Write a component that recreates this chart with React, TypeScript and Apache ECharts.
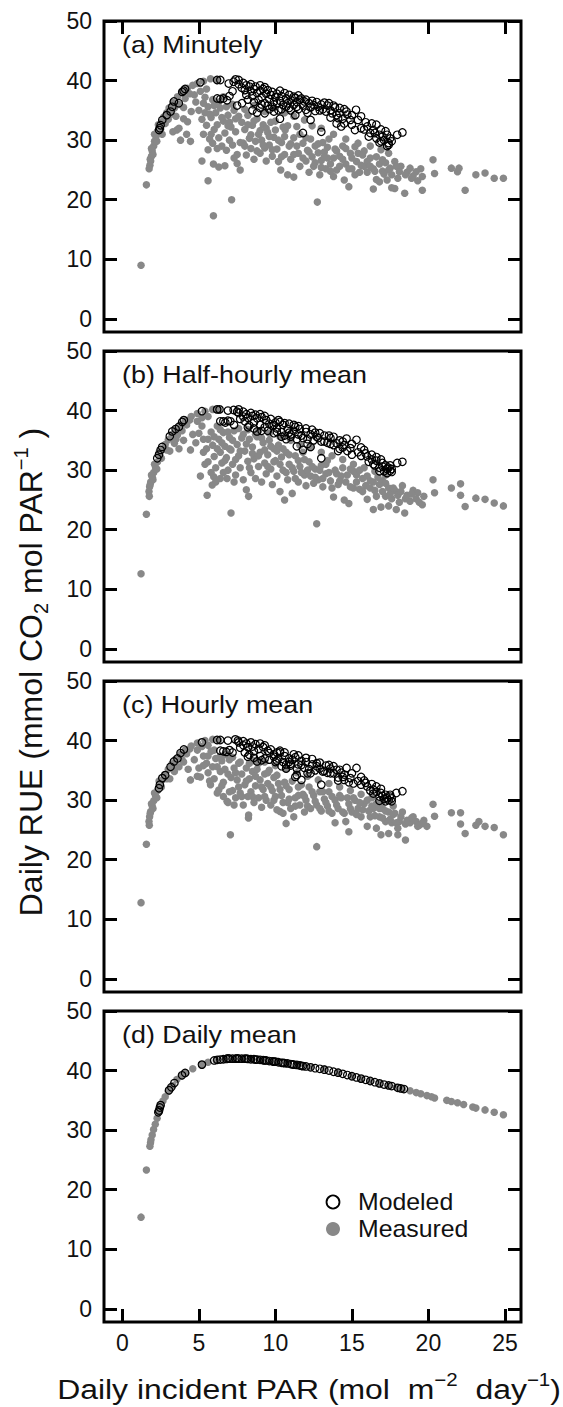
import React, { useEffect, useRef } from "react";
import * as echarts from "echarts";

const FONT = "'Liberation Sans', Arial, Helvetica, sans-serif";

const X_TICKS = [0, 5, 10, 15, 20, 25];
const Y_TICKS = [0, 10, 20, 30, 40, 50];
const PANEL_LABELS = ["(a) Minutely", "(b) Half-hourly mean", "(c) Hourly mean", "(d) Daily mean"];
const LEGEND_NAMES = ["Modeled", "Measured"];

const measuredA = [
  [1.22, 9.0], [1.57, 22.5], [1.8, 25.8], [1.85, 26.5], [1.9, 27.3], [1.95, 28.2], [2.05, 29.0], [2.1, 29.8], [2.2, 30.6], [2.3, 31.5], [2.4, 32.3], [2.55, 33.0], [2.7, 33.9], [2.9, 34.6], [3.05, 35.4], [3.3, 36.3], [3.6, 37.3], [3.9, 38.0], [4.25, 38.7], [4.6, 39.2], [4.9, 39.5], [5.3, 39.9], [5.76, 40.3], [6.2, 40.0],
  [1.75, 25.2], [1.82, 26.8], [1.9, 28.6], [2.0, 27.6], [2.1, 31.0], [2.25, 29.8], [2.35, 32.6], [2.5, 31.8], [2.8, 32.8], [3.1, 34.6], [3.4, 35.4], [3.7, 36.0], [4.1, 37.0], [4.4, 37.8], [4.0, 33.6], [3.3, 31.4], [4.2, 31.0],
  [2.6, 31.0], [3.0, 33.5], [3.2, 34.4], [3.5, 34.0], [3.56, 31.7], [3.8, 30.0], [4.26, 33.1], [4.45, 29.8], [4.5, 34.8], [4.0, 35.5], [4.8, 36.4], [5.0, 35.0], [3.7, 32.0],
  [5.2, 33.5], [5.3, 31.0], [5.5, 32.5], [5.6, 35.6], [5.7, 30.2], [5.8, 33.8], [5.9, 29.5], [6.0, 31.8], [6.1, 34.6], [6.2, 32.6], [6.3, 30.4], [6.4, 35.4], [6.5, 29.0], [6.6, 33.2], [6.7, 31.2], [6.8, 28.3], [6.9, 34.2], [7.0, 30.0], [7.1, 32.2], [7.2, 29.2], [7.3, 35.0], [7.4, 31.4], [7.5, 27.6], [5.4, 37.2], [5.9, 36.8], [6.6, 37.3],
  [4.7, 37.6], [5.1, 38.2], [5.5, 38.6], [5.3, 36.2], [5.7, 34.4], [6.0, 35.8], [6.3, 36.4], [6.5, 33.8], [6.8, 35.6], [7.0, 33.0], [7.2, 36.0], [7.6, 34.0], [7.7, 29.6], [6.2, 28.6], [5.6, 28.4], [5.8, 31.0], [6.9, 32.4], [7.4, 33.6], [5.4, 34.6],
  [5.2, 26.5], [5.6, 23.2], [5.95, 26.0], [5.95, 17.3], [6.3, 25.5], [6.7, 25.7], [7.14, 20.0], [7.5, 26.1], [7.7, 25.0], [7.3, 27.0],
  [7.8, 33.0], [7.9, 29.5], [8.0, 31.8], [8.1, 27.5], [8.2, 34.2], [8.3, 30.3], [8.4, 28.6], [8.5, 32.5], [8.6, 26.8], [8.7, 29.8], [8.8, 33.6], [8.9, 31.0], [9.0, 27.8], [9.1, 30.0], [9.2, 32.6], [9.3, 28.7], [9.4, 26.5], [9.5, 31.3], [9.6, 29.2], [9.7, 33.0], [9.8, 27.3], [9.9, 30.5], [10.0, 31.7], [10.1, 28.5], [10.2, 26.4], [10.35, 25.0], [10.4, 29.6], [10.5, 32.2], [10.6, 27.6], [10.64, 31.7], [10.8, 24.2], [10.9, 29.0], [11.0, 26.8], [11.2, 23.8], [11.2, 30.4], [11.4, 32.3],
  [8.0, 29.0], [8.2, 32.6], [8.4, 30.9], [8.6, 33.2], [8.8, 28.2], [9.0, 31.6], [9.2, 29.2], [9.4, 32.0], [9.6, 30.6], [9.8, 28.4], [10.0, 33.2], [10.2, 30.0], [10.4, 27.2], [10.6, 30.6], [10.8, 32.4], [11.0, 29.4], [11.2, 27.6], [11.4, 29.0], [11.6, 31.0], [11.8, 27.0], [12.0, 30.4], [12.2, 28.0],
  [11.5, 27.8], [11.6, 25.6], [11.8, 29.5], [12.0, 26.5], [12.1, 28.3], [12.2, 24.6], [12.3, 30.2], [12.4, 27.2], [12.5, 25.6], [12.6, 29.0], [12.74, 19.6], [12.8, 27.9], [12.9, 24.2], [13.0, 26.6], [13.1, 29.6], [13.2, 28.0], [13.3, 25.2], [13.4, 27.0], [13.5, 30.2], [13.6, 26.0], [13.8, 23.9], [13.9, 28.5], [14.0, 25.0], [14.2, 27.3], [14.4, 29.0], [14.5, 23.3], [14.6, 26.0], [14.8, 22.2], [14.9, 27.8], [15.0, 25.2], [15.2, 28.9], [15.3, 26.4], [15.5, 24.6],
  [12.6, 26.2], [12.8, 29.4], [13.0, 25.4], [13.2, 27.2], [13.4, 28.8], [13.6, 24.8], [13.8, 27.0], [14.0, 28.2], [14.2, 25.6], [14.4, 26.8], [14.6, 28.6], [14.8, 25.2], [15.0, 27.0], [15.2, 24.2], [15.4, 27.8], [15.6, 25.8], [15.8, 28.2], [16.0, 24.6], [16.2, 27.0], [16.4, 25.2], [16.6, 23.4], [16.8, 26.0], [17.0, 24.8], [17.2, 26.2], [17.4, 25.0], [17.6, 24.2], [17.8, 26.4], [18.0, 23.6], [18.2, 25.6], [18.6, 24.6], [18.9, 23.6], [19.3, 23.2], [19.5, 25.2],
  [15.7, 27.5], [15.8, 25.6], [16.0, 26.4], [16.2, 25.6], [16.4, 21.8], [16.5, 24.8], [16.6, 27.2], [16.8, 23.0], [17.0, 26.7], [17.1, 24.3], [17.3, 23.3], [17.5, 25.3], [17.6, 22.0], [17.8, 21.9], [17.9, 25.6], [18.1, 24.7], [18.45, 21.1], [18.8, 25.3], [19.2, 24.7], [19.6, 23.9], [19.6, 21.6], [19.0, 24.0], [18.5, 24.2],
  [20.3, 26.7], [20.4, 24.4], [21.5, 25.3], [21.9, 24.7], [22.0, 25.3], [22.4, 21.6], [23.1, 24.2], [23.7, 24.5], [24.3, 23.6], [24.9, 23.6],
  [8.0, 35.2], [8.6, 35.8], [9.3, 34.8], [9.9, 35.4], [10.6, 34.6], [11.2, 34.0], [11.9, 33.4], [12.4, 32.4], [13.0, 32.0], [13.8, 31.0], [14.6, 30.2], [15.4, 29.5], [16.2, 29.0], [16.9, 28.4], [17.4, 27.8]
];

const modeledA = [
  [2.4, 31.7], [2.45, 32.0], [2.5, 32.5], [2.61, 33.4], [2.9, 34.2], [3.15, 34.8], [3.26, 35.6], [3.37, 36.5], [3.69, 36.2], [3.91, 38.1], [4.0, 38.3], [4.1, 38.6], [5.1, 39.7], [6.19, 40.1], [6.4, 40.1], [6.95, 39.5], [7.27, 39.8], [7.4, 40.2], [7.6, 40.1],
  [6.2, 37.0], [6.4, 36.9], [6.6, 37.0], [6.84, 36.7], [7.0, 37.4], [7.2, 38.2], [7.82, 36.2], [7.5, 35.8],
  [7.8, 38.8], [8.0, 38.4], [8.1, 37.6], [8.3, 39.0], [8.4, 38.2], [8.5, 37.4], [8.6, 38.6], [8.8, 37.9], [8.9, 36.8], [9.0, 38.3], [9.1, 37.2], [9.2, 38.6], [9.3, 36.2], [9.4, 37.8], [9.5, 38.4], [9.6, 36.9], [9.7, 37.6], [9.8, 38.1], [9.9, 36.4], [10.0, 37.2],
  [7.6, 39.4], [7.9, 39.6], [8.1, 39.2], [8.4, 39.4], [8.7, 39.0], [9.0, 39.2], [9.3, 38.9], [8.2, 36.8], [8.6, 36.4], [9.1, 36.0], [9.5, 35.8], [9.8, 35.6], [10.1, 36.2], [10.3, 38.3], [10.6, 37.9], [10.9, 37.6], [11.2, 37.3], [11.5, 37.5], [11.7, 37.0],
  [8.5, 35.0], [8.8, 34.6], [9.0, 35.4], [9.3, 34.5], [9.6, 35.2], [9.9, 34.8], [10.2, 35.0],
  [10.1, 37.8], [10.3, 36.6], [10.4, 37.4], [10.5, 35.9], [10.7, 37.0], [10.8, 36.2], [10.9, 35.4], [11.0, 36.8], [11.2, 35.9], [11.3, 37.1], [11.4, 36.4], [11.5, 35.2], [11.6, 36.8], [11.8, 35.8], [11.9, 36.5], [12.0, 35.1], [12.2, 36.2], [12.3, 35.5], [12.5, 35.9], [12.6, 34.9], [12.8, 35.6], [13.0, 36.0], [13.1, 35.2], [13.3, 34.8], [13.4, 35.8],
  [10.4, 35.2], [10.7, 35.6], [11.0, 35.0], [11.4, 35.6], [12.0, 36.8], [12.4, 36.6], [12.7, 36.4], [12.1, 34.6], [12.9, 35.0], [13.2, 36.3], [13.5, 36.2], [13.8, 35.8], [14.2, 35.4], [14.5, 35.2], [14.0, 34.2], [14.4, 33.6], [13.6, 33.8],
  [10.3, 33.6], [11.8, 31.2], [12.3, 33.4], [13.0, 31.4], [11.3, 34.2],
  [13.6, 35.0], [13.7, 34.5], [13.9, 35.5], [14.0, 32.8], [14.1, 33.7], [14.2, 34.5], [14.3, 32.3], [14.5, 32.8], [14.65, 34.8], [14.7, 34.3], [14.9, 33.4], [15.0, 32.6], [15.2, 31.7], [15.27, 35.1], [15.4, 33.4], [15.6, 32.0], [15.8, 31.8], [16.0, 32.3], [16.1, 30.6],
  [15.0, 34.2], [15.6, 34.0], [15.9, 33.0], [16.3, 32.8], [16.6, 32.6], [16.4, 31.7], [16.9, 31.8], [17.2, 31.5], [16.8, 29.6], [17.3, 29.0], [17.0, 30.6],
  [16.2, 31.2], [16.5, 31.2], [16.6, 30.3], [16.8, 30.9], [16.9, 29.8], [17.1, 30.0], [17.3, 30.9], [17.4, 29.5], [17.5, 30.3], [17.4, 29.2], [17.6, 29.8], [17.96, 30.9], [18.3, 31.3]
];

const measuredB = [
  [1.22, 12.6], [1.57, 22.6], [1.74, 26.4], [1.78, 27.2], [1.85, 28.0], [1.96, 28.8], [2.05, 29.6], [2.17, 30.4], [2.3, 31.4], [2.45, 32.4], [2.6, 33.4], [2.8, 34.3], [3.0, 35.1], [3.25, 36.0], [3.5, 36.8], [3.8, 37.6], [4.1, 38.3], [4.5, 39.0], [4.9, 39.5], [5.4, 39.9], [5.9, 40.2], [6.3, 40.1],
  [1.76, 25.6], [1.82, 27.6], [1.9, 29.2], [2.0, 28.4], [2.1, 31.0], [2.25, 30.2], [2.4, 33.0], [2.55, 32.0], [2.9, 33.4], [3.2, 35.4], [3.5, 35.2], [3.9, 36.6], [4.2, 37.6], [4.4, 38.4], [4.9, 38.2], [5.2, 38.8], [5.6, 39.0],
  [3.1, 33.2], [3.4, 34.5], [3.7, 33.6], [4.0, 35.0], [4.45, 33.4], [4.6, 36.0], [4.8, 34.6], [5.0, 36.2], [5.2, 37.4], [5.3, 35.2], [3.6, 35.9],
  [5.1, 29.0], [5.54, 25.8], [5.87, 27.5], [5.97, 28.9], [6.4, 28.6], [6.84, 28.6], [7.1, 22.8], [5.5, 33.6], [5.6, 31.4], [5.8, 36.4], [5.9, 34.2], [6.0, 32.3], [6.1, 30.4], [6.2, 37.4], [6.3, 35.2], [6.4, 33.0], [6.5, 31.2], [6.6, 36.3], [6.7, 34.0], [6.8, 32.1], [6.9, 30.0], [7.0, 35.5], [7.1, 33.4], [7.2, 31.0], [7.3, 36.6], [7.4, 29.2], [7.5, 34.3], [7.6, 32.4], [7.7, 30.4], [7.9, 28.4], [8.1, 26.7], [8.25, 25.6], [7.9, 36.0],
  [5.3, 33.0], [5.6, 35.2], [5.8, 29.6], [6.0, 35.6], [6.2, 33.6], [6.4, 36.8], [6.5, 34.6], [6.7, 31.6], [6.9, 36.4], [7.0, 33.6], [7.2, 35.0], [7.4, 31.8], [7.6, 37.0], [7.7, 33.2], [7.8, 35.4], [6.1, 28.0], [6.6, 29.6], [7.3, 28.0], [5.4, 31.0],
  [8.0, 33.2], [8.2, 31.5], [8.3, 35.2], [8.4, 29.6], [8.5, 33.9], [8.6, 31.9], [8.7, 28.6], [8.8, 35.6], [8.9, 30.6], [9.0, 33.0], [9.1, 28.0], [9.2, 34.6], [9.3, 31.2], [9.4, 29.4], [9.5, 32.6], [9.6, 35.0], [9.7, 30.2], [9.8, 27.6], [9.9, 33.6], [10.0, 31.6], [10.1, 29.0], [10.2, 34.2], [10.3, 26.4], [10.4, 32.2], [10.5, 30.0], [10.6, 25.0], [10.7, 33.0], [10.8, 28.4], [10.9, 31.0], [11.1, 26.1], [11.2, 29.8], [11.3, 32.4], [11.5, 28.0], [11.6, 30.6], [11.8, 33.0], [11.9, 29.2],
  [8.1, 34.4], [8.3, 30.4], [8.5, 32.8], [8.7, 36.0], [8.9, 32.4], [9.1, 35.4], [9.3, 33.4], [9.5, 30.6], [9.7, 34.0], [9.9, 31.4], [10.1, 33.2], [10.3, 31.0], [10.5, 33.6], [10.7, 29.6], [10.9, 32.6], [11.1, 30.4], [11.3, 28.6], [11.5, 31.6], [11.7, 29.6], [11.9, 31.8], [12.1, 30.0],
  [12.0, 27.4], [12.2, 31.4], [12.3, 29.0], [12.5, 27.8], [12.6, 30.2], [12.7, 21.0], [12.8, 28.4], [13.0, 30.8], [13.1, 27.2], [13.3, 29.4], [13.4, 31.6], [13.6, 28.2], [13.8, 25.5], [13.9, 30.0], [14.1, 27.6], [14.3, 29.0], [14.5, 25.0], [14.6, 28.0], [14.8, 24.4], [14.9, 30.2], [15.1, 27.0], [15.3, 29.2], [15.5, 26.8], [15.7, 28.6], [15.9, 27.4],
  [12.4, 30.6], [12.6, 28.8], [12.9, 30.0], [13.1, 28.6], [13.3, 31.0], [13.5, 29.6], [13.7, 27.0], [14.0, 29.4], [14.2, 28.2], [14.4, 30.4], [14.7, 29.2], [14.9, 27.2], [15.1, 29.8], [15.3, 28.0], [15.5, 30.0], [15.7, 26.4], [16.0, 29.0], [16.2, 27.0], [16.4, 28.0], [16.6, 25.6], [16.8, 27.6], [17.0, 28.2], [17.2, 25.6], [17.4, 27.0], [17.6, 25.2], [17.8, 26.6], [18.1, 24.6], [18.3, 27.4], [18.5, 25.2], [18.8, 24.8], [19.0, 26.6], [19.3, 26.2], [19.7, 25.6],
  [16.0, 25.1], [16.2, 28.2], [16.4, 23.4], [16.5, 26.6], [16.7, 28.8], [16.9, 23.8], [17.0, 26.4], [17.2, 27.8], [17.4, 24.0], [17.5, 26.0], [17.7, 27.0], [17.9, 23.4], [18.0, 25.8], [18.2, 26.4], [18.45, 22.8], [18.6, 25.8], [18.9, 26.0], [19.2, 25.2], [19.4, 24.6], [19.6, 24.2],
  [20.3, 28.4], [20.4, 26.2], [21.5, 27.0], [22.1, 27.7], [22.1, 25.8], [22.4, 23.9], [23.1, 25.3], [23.7, 25.1], [24.3, 24.5], [24.9, 24.0],
  [8.2, 36.8], [8.9, 36.6], [9.6, 36.2], [10.3, 35.6], [11.0, 35.0], [11.6, 34.2], [12.3, 33.8], [13.0, 33.0], [13.7, 32.4], [14.4, 31.8], [15.1, 31.0], [15.8, 30.4], [16.5, 29.8], [17.2, 29.2]
];

const modeledB = [
  [2.28, 32.0], [2.39, 32.6], [2.5, 33.4], [2.6, 33.9], [3.1, 35.7], [3.26, 36.5], [3.48, 36.9], [3.7, 37.3], [3.91, 38.1], [4.02, 38.4], [5.2, 39.9], [6.19, 40.2], [6.35, 40.2], [6.9, 40.0], [7.27, 40.1], [7.5, 39.8], [7.6, 40.2],
  [6.4, 38.2], [6.6, 38.2], [6.73, 38.0], [6.9, 38.3], [7.06, 38.2], [7.3, 37.6],
  [7.7, 38.6], [7.9, 39.0], [8.0, 38.2], [8.2, 38.8], [8.3, 37.5], [8.5, 39.1], [8.6, 38.0], [8.8, 36.5], [8.8, 38.7], [9.0, 37.6], [9.1, 38.9], [9.3, 37.2], [9.4, 38.4], [9.5, 36.6], [9.7, 38.6], [9.8, 37.4], [9.9, 36.2], [10.0, 38.0],
  [7.6, 39.6], [7.9, 39.8], [8.1, 39.4], [8.4, 39.6], [8.7, 39.3], [9.0, 39.4], [9.3, 39.1], [8.2, 37.2], [8.6, 37.0], [9.1, 36.6], [9.6, 37.8], [9.9, 37.6], [10.1, 36.4], [10.3, 38.1], [10.6, 37.9], [10.9, 36.3], [11.2, 37.6], [11.5, 37.4], [11.7, 35.8],
  [10.1, 37.0], [10.2, 38.4], [10.4, 36.4], [10.5, 37.6], [10.6, 35.8], [10.8, 36.9], [10.9, 37.8], [11.0, 35.6], [11.2, 36.6], [11.3, 37.3], [11.4, 34.0], [11.5, 36.0], [11.6, 36.9], [11.8, 33.4], [11.8, 35.4], [12.0, 36.4], [12.1, 35.2], [12.3, 33.9], [12.3, 36.0], [12.5, 35.0], [12.6, 36.3], [12.8, 35.4], [13.0, 32.0], [13.0, 34.8], [13.2, 35.8], [13.4, 34.6],
  [10.4, 35.6], [10.7, 35.2], [11.0, 36.0], [11.4, 35.2], [12.0, 37.0], [12.4, 36.8], [12.7, 35.6], [12.1, 34.4], [12.9, 36.2], [13.2, 34.8], [13.5, 35.8], [13.8, 35.6], [14.2, 35.0], [14.5, 34.2], [14.1, 33.2], [14.4, 33.8], [13.6, 34.4],
  [13.6, 35.4], [13.8, 34.2], [14.0, 34.5], [14.2, 33.6], [14.4, 34.8], [14.65, 35.3], [14.7, 33.2], [14.9, 33.7], [15.0, 32.6], [15.3, 35.1], [15.4, 33.0], [15.6, 32.4], [15.8, 33.4], [16.0, 32.3], [16.1, 31.4],
  [15.0, 34.4], [15.6, 33.8], [15.9, 32.8], [16.3, 32.6], [16.6, 32.2], [16.4, 31.0], [16.9, 31.8], [17.2, 30.8], [16.8, 29.8], [17.3, 30.2], [17.0, 30.6], [17.6, 29.7], [17.5, 30.8],
  [16.3, 31.8], [16.5, 30.8], [16.6, 31.6], [16.8, 30.4], [17.0, 31.2], [17.1, 29.8], [17.3, 29.5], [17.4, 30.4], [17.5, 29.9], [17.6, 30.2], [17.96, 31.2], [18.3, 31.4]
];

const measuredC = [
  [1.22, 12.8], [1.57, 22.6], [1.74, 26.4], [1.78, 27.2], [1.85, 28.1], [1.95, 29.0], [2.05, 29.9], [2.17, 30.7], [2.3, 31.6], [2.45, 32.5], [2.6, 33.4], [2.8, 34.3], [3.0, 35.2], [3.25, 36.1], [3.5, 36.9], [3.8, 37.7], [4.1, 38.4], [4.5, 39.1], [4.9, 39.6], [5.4, 40.0], [5.9, 40.2], [6.3, 40.0],
  [1.76, 25.8], [1.82, 27.8], [1.9, 29.4], [2.0, 28.6], [2.1, 31.2], [2.25, 30.4], [2.4, 33.2], [2.55, 32.2], [2.9, 33.6], [3.2, 35.6], [3.5, 35.6], [3.9, 36.8], [4.2, 37.8], [4.4, 38.6], [4.9, 38.4], [5.2, 39.0], [5.6, 39.2],
  [3.1, 33.6], [3.4, 34.8], [3.7, 35.6], [4.0, 36.4], [4.45, 33.4], [4.3, 35.2], [4.7, 36.8], [5.0, 35.4], [5.1, 33.9], [5.3, 37.4], [5.5, 36.2], [5.76, 32.6], [4.9, 34.0],
  [5.6, 34.6], [5.8, 38.2], [5.9, 35.6], [6.0, 33.6], [6.1, 37.0], [6.2, 31.2], [6.3, 31.7], [6.4, 34.8], [6.5, 36.6], [6.6, 33.0], [6.7, 35.2], [6.84, 29.8], [6.9, 29.6], [7.0, 36.8], [7.1, 33.8], [7.06, 24.2], [7.2, 31.6], [7.3, 35.4], [7.4, 30.4], [7.5, 33.4], [7.6, 36.2], [7.7, 31.2], [7.8, 34.4], [7.9, 29.2], [8.0, 32.6], [8.24, 27.0], [8.25, 27.5],
  [5.3, 35.8], [5.6, 37.4], [5.7, 33.2], [6.0, 38.4], [6.2, 35.6], [6.4, 37.4], [6.5, 32.4], [6.7, 37.6], [6.9, 34.4], [7.0, 31.4], [7.2, 37.2], [7.4, 34.6], [7.6, 32.2], [7.7, 36.4], [7.8, 30.6], [6.6, 30.6], [7.3, 29.2],
  [8.1, 35.4], [8.2, 30.6], [8.3, 33.6], [8.4, 31.4], [8.5, 34.8], [8.6, 29.6], [8.7, 32.4], [8.8, 35.2], [8.9, 30.4], [9.0, 33.4], [9.1, 28.8], [9.2, 31.8], [9.3, 34.4], [9.4, 30.0], [9.5, 32.8], [9.6, 35.0], [9.7, 29.2], [9.8, 31.6], [9.9, 33.8], [10.0, 30.6], [10.1, 28.4], [10.2, 32.8], [10.3, 28.1], [10.4, 30.8], [10.5, 27.8], [10.6, 33.0], [10.7, 26.1], [10.8, 29.6], [10.9, 31.8], [11.0, 28.6], [11.2, 27.2], [11.3, 30.4], [11.5, 32.2], [11.6, 29.2], [11.8, 31.0], [11.9, 28.0],
  [8.1, 33.2], [8.3, 36.2], [8.5, 30.6], [8.7, 34.0], [8.9, 36.2], [9.1, 32.2], [9.3, 30.6], [9.5, 34.6], [9.7, 32.2], [9.9, 30.0], [10.1, 34.2], [10.3, 31.8], [10.5, 29.6], [10.7, 32.4], [10.9, 30.2], [11.1, 33.2], [11.3, 29.0], [11.5, 30.8], [11.7, 32.6], [11.9, 30.6], [12.1, 29.0],
  [12.0, 30.0], [12.2, 32.2], [12.3, 28.6], [12.5, 30.8], [12.7, 22.2], [12.7, 29.2], [12.9, 31.4], [13.0, 28.2], [13.2, 30.2], [13.4, 29.0], [13.5, 31.4], [13.7, 27.8], [13.9, 26.2], [13.9, 30.0], [14.1, 28.6], [14.3, 30.4], [14.5, 27.8], [14.6, 26.4], [14.8, 24.7], [14.8, 29.4], [15.0, 28.0], [15.2, 30.0], [15.4, 28.6], [15.6, 27.2], [15.8, 29.4],
  [12.4, 31.4], [12.6, 29.8], [12.9, 28.6], [13.1, 31.4], [13.3, 29.6], [13.5, 28.2], [13.7, 30.6], [14.0, 29.2], [14.2, 30.8], [14.4, 28.0], [14.7, 30.4], [14.9, 28.6], [15.1, 30.4], [15.3, 27.6], [15.5, 29.6], [15.7, 28.4], [16.0, 30.0], [16.2, 27.2], [16.4, 28.6], [16.6, 29.4], [16.8, 27.2], [17.0, 28.6], [17.2, 26.4], [17.4, 28.0], [17.6, 26.2], [17.8, 27.8], [18.1, 26.4], [18.3, 28.0], [18.5, 26.0], [18.8, 26.2], [19.0, 27.2], [19.3, 25.6], [19.7, 26.6],
  [16.0, 25.6], [16.1, 28.2], [16.3, 29.0], [16.5, 27.4], [16.6, 25.3], [16.8, 28.6], [16.9, 24.2], [17.0, 27.0], [17.2, 28.2], [17.4, 24.4], [17.5, 26.8], [17.7, 27.6], [17.9, 26.2], [18.0, 24.2], [18.0, 25.3], [18.2, 27.2], [18.5, 23.3], [18.6, 26.6], [18.9, 27.0], [19.2, 26.4], [19.4, 25.8], [19.6, 26.1], [19.9, 25.6],
  [20.3, 29.3], [20.4, 27.3], [21.5, 27.9], [22.1, 27.9], [22.1, 26.0], [22.4, 24.4], [23.1, 25.8], [23.3, 26.4], [23.7, 25.6], [24.3, 25.4], [24.9, 24.2],
  [8.6, 36.6], [9.3, 36.4], [10.0, 35.8], [10.7, 35.2], [11.4, 34.6], [12.1, 34.0], [12.8, 33.4], [13.5, 32.8], [14.2, 32.2], [14.9, 31.6], [15.6, 31.0], [16.3, 30.4], [17.0, 29.8], [17.7, 29.0]
];

const modeledC = [
  [2.39, 32.0], [2.45, 32.6], [2.61, 33.7], [2.8, 34.2], [3.15, 35.6], [3.37, 36.5], [3.6, 37.0], [3.8, 37.9], [4.02, 38.5], [5.2, 39.7], [6.19, 40.1], [6.4, 40.1], [6.9, 40.0], [7.38, 40.2], [7.55, 40.0],
  [6.4, 38.3], [6.6, 38.2], [6.8, 38.1], [7.0, 38.4], [7.2, 38.0],
  [7.7, 38.8], [7.9, 39.2], [8.0, 38.0], [8.2, 38.9], [8.3, 37.6], [8.5, 39.0], [8.6, 38.2], [8.8, 36.5], [8.9, 38.6], [9.0, 37.4], [9.2, 38.9], [9.3, 37.0], [9.5, 38.3], [9.6, 36.8], [9.7, 38.5], [9.9, 37.3], [10.0, 36.4], [10.1, 38.0],
  [7.6, 39.7], [7.9, 39.9], [8.1, 39.5], [8.4, 39.7], [8.7, 39.4], [9.0, 39.5], [9.3, 39.2], [8.2, 37.3], [8.6, 37.1], [9.1, 36.7], [9.6, 37.9], [9.9, 37.7], [10.1, 36.6], [10.3, 38.3], [10.6, 38.0], [10.9, 36.4], [11.2, 37.7], [11.5, 37.5], [11.7, 35.9],
  [10.2, 37.0], [10.3, 38.0], [10.5, 36.4], [10.6, 37.4], [10.7, 36.0], [10.9, 37.0], [11.0, 35.8], [11.1, 36.8], [11.3, 33.9], [11.3, 37.2], [11.4, 34.2], [11.5, 36.0], [11.7, 33.4], [11.7, 36.6], [11.9, 35.4], [12.0, 36.4], [12.2, 35.2], [12.3, 34.5], [12.4, 36.0], [12.6, 35.0], [12.7, 36.2], [12.9, 35.3], [13.0, 32.6], [13.1, 34.8], [13.3, 35.8], [13.4, 34.6],
  [10.4, 35.7], [10.7, 35.3], [11.0, 36.1], [11.4, 35.3], [12.0, 37.1], [12.4, 36.9], [12.7, 35.7], [12.1, 34.5], [12.9, 36.3], [13.2, 34.9], [13.5, 35.9], [13.8, 35.7], [14.2, 35.1], [14.5, 34.3], [14.1, 33.3], [14.4, 33.9], [13.6, 34.5],
  [13.6, 35.3], [13.8, 34.5], [14.0, 35.1], [14.1, 33.8], [14.3, 34.6], [14.5, 33.4], [14.65, 35.4], [14.8, 33.0], [14.9, 33.7], [15.1, 32.8], [15.3, 35.4], [15.4, 33.2], [15.6, 32.6], [15.8, 33.3], [16.0, 32.3], [16.2, 31.6],
  [15.0, 34.5], [15.6, 33.9], [15.9, 32.9], [16.3, 32.7], [16.6, 32.3], [16.4, 31.1], [16.9, 31.9], [17.2, 30.9], [16.8, 29.9], [17.3, 30.3], [17.0, 30.7], [17.6, 29.8], [17.5, 30.9],
  [16.4, 31.8], [16.6, 31.4], [16.8, 30.6], [16.9, 31.2], [17.1, 30.2], [17.2, 29.8], [17.4, 30.0], [17.5, 30.6], [17.6, 30.3], [17.9, 31.2], [18.3, 31.5]
];

const measuredD = [
  [1.22, 15.4], [1.57, 23.3], [1.8, 27.3], [1.84, 27.9], [1.87, 28.4], [1.95, 29.2], [2.04, 30.1], [2.15, 31.0], [2.27, 32.0], [2.38, 33.0], [2.5, 34.0], [2.65, 34.9], [2.8, 35.6], [3.0, 36.5], [3.09, 36.8], [3.3, 37.5], [3.56, 38.5], [3.85, 39.1], [4.15, 39.6], [4.6, 40.3], [5.2, 41.0], [5.6, 41.4], [6.13, 41.7], [6.7, 41.9], [7.3, 41.95], [7.9, 42.0], [8.48, 41.9], [9.2, 41.7], [9.88, 41.5], [10.7, 41.2], [11.5, 41.0], [12.3, 40.6], [13.2, 40.3], [14.1, 39.7], [15.0, 39.0], [15.6, 38.6], [16.2, 38.2], [16.8, 37.8], [17.4, 37.5], [17.9, 37.2], [18.3, 36.9], [18.8, 36.6], [19.2, 36.3], [19.5, 36.1], [19.9, 35.8], [20.2, 35.6], [20.4, 35.4], [21.2, 35.0], [21.5, 34.8], [21.9, 34.6], [22.3, 34.3], [22.9, 33.9], [23.1, 33.7], [23.7, 33.4], [24.3, 33.0], [24.9, 32.6]
];

const modeledD = [
  [2.35, 33.0], [2.4, 33.3], [2.45, 33.8], [2.5, 34.2], [3.05, 36.7], [3.2, 37.2], [3.4, 37.9], [3.9, 39.2], [4.1, 39.6], [5.2, 41.0], [6.0, 41.7], [6.2, 41.8], [6.4, 41.85], [6.6, 41.9], [6.8, 41.95], [7.0, 42.0], [7.2, 42.0], [7.4, 42.0], [7.6, 42.0], [7.8, 42.0], [8.0, 42.0], [8.2, 41.95], [8.4, 41.9], [8.6, 41.9], [8.8, 41.85], [9.0, 41.8], [9.2, 41.75], [9.4, 41.7], [9.6, 41.6], [9.8, 41.55], [10.0, 41.5], [10.2, 41.4], [10.4, 41.3], [10.6, 41.25], [10.8, 41.2], [11.0, 41.1], [11.2, 41.0], [11.4, 40.95], [11.6, 40.85], [11.8, 40.75], [12.0, 40.7], [12.3, 40.55], [12.6, 40.4], [12.9, 40.3], [13.2, 40.15], [13.5, 40.0], [13.8, 39.8], [14.1, 39.65], [14.4, 39.45], [14.7, 39.25], [15.0, 39.05], [15.3, 38.85], [15.6, 38.65], [15.9, 38.45], [16.2, 38.25], [16.5, 38.05], [16.8, 37.85], [17.1, 37.65], [17.4, 37.5], [17.6, 37.4], [18.0, 37.1], [18.2, 37.0], [18.4, 36.9],
  [6.9, 42.05], [7.5, 42.05], [8.1, 42.0], [8.7, 41.85], [9.3, 41.7], [9.9, 41.5], [10.5, 41.3], [11.1, 41.05], [11.7, 40.8]
];

const MEASURED = [measuredA, measuredB, measuredC, measuredD];
const MODELED = [modeledA, modeledB, modeledC, modeledD];

export default function App() {
  const ref = useRef<HTMLDivElement>(null);
  useEffect(() => {
    const chart = echarts.init(ref.current!, null, { renderer: "svg" });
    const tops = [21, 351, 681, 1011];
    const gridLeft = 104;
    const gridW = 417;
    const gridH = 311;
    const gray = "#888888";
    const ink = "#111";
    const tickStyle = { color: "#000", width: 3 };
    const labelStyle = { fontSize: 23, color: ink, fontFamily: FONT };

    const grids = tops.map((t) => ({
      left: gridLeft, top: t, width: gridW, height: gridH,
      show: true, borderColor: "#000", borderWidth: 3, backgroundColor: "transparent",
    }));

    const xAxes: any[] = tops.map((_, i) => ({
      type: "value", gridIndex: i, min: -1.2, max: 26.05, position: "bottom",
      axisLine: { show: false, onZero: false }, splitLine: { show: false },
      axisTick: { show: i === 3, inside: true, length: 13, lineStyle: tickStyle, customValues: X_TICKS },
      axisLabel: { show: i === 3, customValues: X_TICKS, margin: 9, ...labelStyle },
    }));
    xAxes.push({
      type: "value", gridIndex: 0, min: -1.2, max: 26.05, position: "top",
      axisLine: { show: false, onZero: false }, splitLine: { show: false },
      axisTick: { show: true, inside: true, length: 13, lineStyle: tickStyle, customValues: X_TICKS },
      axisLabel: { show: false },
    });

    const yAxes: any[] = [];
    tops.forEach((_, i) => {
      yAxes.push({
        type: "value", gridIndex: i, min: -2.2, max: 50, position: "left",
        axisLine: { show: false, onZero: false }, splitLine: { show: false },
        axisTick: { show: true, inside: true, length: 13, lineStyle: tickStyle, customValues: Y_TICKS },
        axisLabel: { show: true, customValues: Y_TICKS, margin: 12, ...labelStyle },
      });
    });
    tops.forEach((_, i) => {
      yAxes.push({
        type: "value", gridIndex: i, min: -2.2, max: 50, position: "right",
        axisLine: { show: false, onZero: false }, splitLine: { show: false },
        axisTick: { show: true, inside: true, length: 13, lineStyle: tickStyle, customValues: Y_TICKS },
        axisLabel: { show: false },
      });
    });

    const series: any[] = [];
    tops.forEach((_, i) => {
      series.push({
        type: "scatter", name: LEGEND_NAMES[1], xAxisIndex: i, yAxisIndex: i,
        data: MEASURED[i], symbol: "circle", symbolSize: 7.5, silent: true, z: 2,
        itemStyle: { color: gray, opacity: 1 },
      });
      series.push({
        type: "scatter", name: LEGEND_NAMES[0], xAxisIndex: i, yAxisIndex: i,
        data: MODELED[i], symbol: "circle", symbolSize: 7.5, silent: true, z: 3,
        itemStyle: { color: "rgba(0,0,0,0)", borderColor: "#000", borderWidth: 1.2, opacity: 1 },
      });
    });

    const graphics: any[] = [];
    tops.forEach((t, i) => {
      graphics.push({
        type: "text", x: 122, y: t + 24, z: 10, scaleX: 1.12,
        style: { text: PANEL_LABELS[i], fontSize: 24, fontFamily: FONT, fill: ink, align: "left", verticalAlign: "middle" },
      });
    });
    graphics.push({
      type: "text", x: 309, y: 1389, z: 10, scaleX: 1.14,
      style: {
        text: "{a|Daily incident PAR (mol  m}{s|−2}{a|  day}{s|−1}{a|)}",
        align: "center", verticalAlign: "middle", fill: ink,
        rich: {
          a: { fontSize: 28, lineHeight: 36, fontFamily: FONT, fill: ink },
          s: { fontSize: 18, lineHeight: 18, fontFamily: FONT, fill: ink, verticalAlign: "top" },
        },
      },
    });
    graphics.push({
      type: "text", x: 31, y: 672, rotation: Math.PI / 2, z: 10,
      style: {
        text: "{a|Daily RUE (mmol CO}{b|2}{a| mol PAR}{s|−1}{a| )}",
        align: "center", verticalAlign: "middle", fill: ink,
        rich: {
          a: { fontSize: 32, lineHeight: 40, fontFamily: FONT, fill: ink },
          b: { fontSize: 20, lineHeight: 20, fontFamily: FONT, fill: ink, verticalAlign: "bottom" },
          s: { fontSize: 20, lineHeight: 20, fontFamily: FONT, fill: ink, verticalAlign: "top" },
        },
      },
    });
    // legend
    graphics.push({ type: "circle", shape: { cx: 333, cy: 1202, r: 6.5 }, style: { fill: "#fff", stroke: "#000", lineWidth: 1.8 }, z: 10 });
    graphics.push({ type: "text", x: 358, y: 1202, z: 10, scaleX: 1.08, style: { text: LEGEND_NAMES[0], fontSize: 23, fontFamily: FONT, fill: ink, align: "left", verticalAlign: "middle" } });
    graphics.push({ type: "circle", shape: { cx: 333, cy: 1229, r: 7 }, style: { fill: gray }, z: 10 });
    graphics.push({ type: "text", x: 358, y: 1229, z: 10, scaleX: 1.08, style: { text: LEGEND_NAMES[1], fontSize: 23, fontFamily: FONT, fill: ink, align: "left", verticalAlign: "middle" } });

    chart.setOption({
      animation: false,
      backgroundColor: "#fff",
      grid: grids,
      xAxis: xAxes,
      yAxis: yAxes,
      series,
      graphic: graphics,
    });
    return () => chart.dispose();
  }, []);
  return <div ref={ref} style={{ position: "absolute", left: 0, top: 0, width: 563, height: 1407, background: "#fff" }} />;
}
